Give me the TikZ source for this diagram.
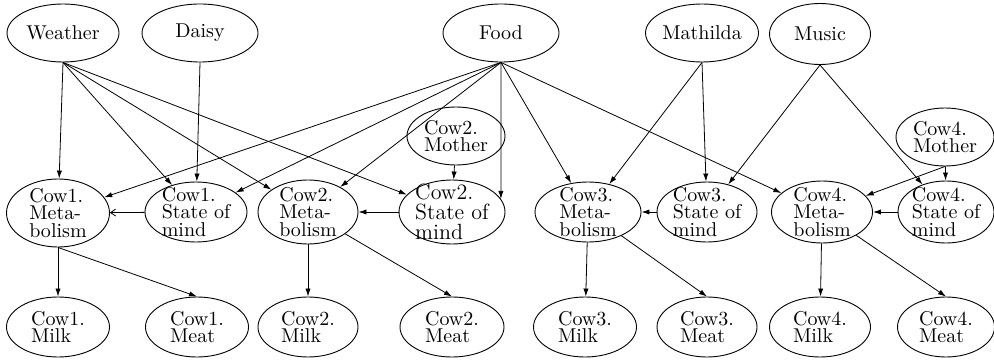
\documentclass[tikz,border=0pt]{standalone}
\usetikzlibrary{shapes.geometric,arrows.meta}
\begin{document}
\begin{tikzpicture}[x=0.5pt,y=-0.5pt,
  lbl/.style={align=left,inner sep=0pt,font=\fontsize{10}{8.8}\selectfont},
  biglbl/.style={align=left,inner sep=0pt,font=\fontsize{11}{10}\selectfont},
  nd/.style={draw,ellipse,inner sep=0pt,line width=0.45pt,label={[lbl]center:#1}},
  ndbig/.style={draw,ellipse,inner sep=0pt,line width=0.45pt,label={[biglbl]center:#1}},
  sz/.style 2 args={minimum width=#1,minimum height=#2},
  ar/.style={-{Latex[length=4pt,width=2.6pt]},line width=0.4pt},
  arb/.style={-{Straight Barb[length=2.5pt,width=3.5pt]},line width=0.4pt}]
\useasboundingbox (0,0) rectangle (994,363);
% top row
\node[nd=Weather,sz={56pt}{29pt}] (weather) at (63,33) {};
\node[nd=Daisy,sz={58pt}{29pt}] (daisy) at (200,33) {};
\node[nd=Food,sz={58pt}{29pt}] (food) at (501,33) {};
\node[nd=Mathilda,sz={56.5pt}{29pt}] (mathilda) at (702,33) {};
\node[nd=Music,sz={50.5pt}{30.5pt}] (music) at (820,34) {};
% mothers
\node[nd={Cow2.\\Mother},sz={49pt}{29pt}] (mo2) at (456,136) {};
\node[nd={Cow4.\\Mother},sz={49pt}{29pt}] (mo4) at (945,137) {};
% middle row
\node[nd={Cow1.\\Meta-\\bolism},sz={51.5pt}{34pt}] (cm1) at (58,213) {};
\node[nd={Cow1.\\State of\\mind},sz={51pt}{30pt}] (cs1) at (196,212) {};
\node[nd={Cow2.\\Meta-\\bolism},sz={50pt}{32pt}] (cm2) at (308,212) {};
\node[ndbig={Cow2.\\State of\\mind},sz={53pt}{32pt}] (cs2) at (452,212) {};
\node[nd={Cow3.\\Meta-\\bolism},sz={53pt}{30pt}] (cm3) at (588,212) {};
\node[nd={Cow3.\\State of\\mind},sz={50pt}{30pt}] (cs3) at (707,212) {};
\node[nd={Cow4.\\Meta-\\bolism},sz={50.5pt}{31pt}] (cm4) at (822,212) {};
\node[nd={Cow4.\\State of\\mind},sz={48pt}{31pt}] (cs4) at (946,212) {};
% bottom row
\node[nd={Cow1.\\Milk},sz={51.5pt}{30pt}] (mk1) at (58,327) {};
\node[nd={Cow1.\\Meat},sz={51.5pt}{30pt}] (mt1) at (197,327) {};
\node[nd={Cow2.\\Milk},sz={50pt}{30pt}] (mk2) at (308,327) {};
\node[nd={Cow2.\\Meat},sz={52pt}{30pt}] (mt2) at (452,327) {};
\node[nd={Cow3.\\Milk},sz={51.5pt}{30pt}] (mk3) at (585,327) {};
\node[nd={Cow3.\\Meat},sz={50pt}{30pt}] (mt3) at (707,327) {};
\node[nd={Cow4.\\Milk},sz={50.5pt}{30pt}] (mk4) at (820,327) {};
\node[nd={Cow4.\\Meat},sz={48.5pt}{30pt}] (mt4) at (946,327) {};
% Weather
\draw[ar] (weather.south) -- (cm1);
\draw[ar] (weather.south) -- (cs1);
\draw[ar] (weather.south) -- (cm2);
\draw[ar] (weather.south) -- (cs2);
% Daisy
\draw[ar] (daisy.south) -- (cs1);
% Food
\draw[ar] (food.south) -- (cm1);
\draw[ar] (food.south) -- (cs1);
\draw[ar] (food.south) -- (cm2);
\draw[ar] (food.south) -- (cs2.15);
\draw[ar] (food.south) -- (cm3);
\draw[ar] (food.south) -- (cm4);
% Mothers
\draw[ar] (mo2) -- (cs2);
\draw[ar] (mo4.south) -- (cm4);
\draw[ar] (mo4) -- (cs4);
% Mathilda, Music
\draw[ar] (mathilda.south) -- (cm3);
\draw[ar] (mathilda.south) -- (cs3);
\draw[ar] (music.south) -- (cs3);
\draw[ar] (music.south) -- (cs4);
% state -> metabolism
\draw[arb] (cs1) -- (cm1);
\draw[ar] (cs2) -- (cm2);
\draw[ar] (cs3) -- (cm3);
\draw[ar] (cs4) -- (cm4);
% metabolism -> milk, meat
\draw[ar] (cm1) -- (mk1);
\draw[ar] (cm1.south) -- (mt1.north);
\draw[ar] (cm2) -- (mk2);
\draw[ar] (cm2) -- (mt2.north);
\draw[ar] (cm3) -- (mk3);
\draw[ar] (cm3) -- (mt3.north);
\draw[ar] (cm4) -- (mk4);
\draw[ar] (cm4) -- (mt4.north);
\end{tikzpicture}
\end{document}
